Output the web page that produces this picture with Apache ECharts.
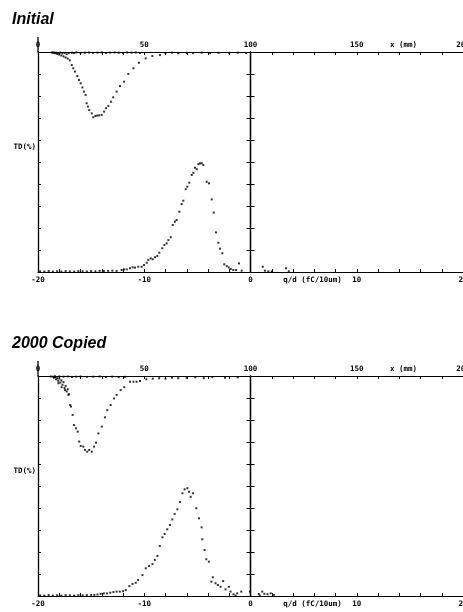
<!DOCTYPE html>
<html><head><meta charset="utf-8">
<script src="https://cdn.jsdelivr.net/npm/echarts@6.0.0/dist/echarts.min.js"></script>
<style>html,body{margin:0;padding:0;background:#fff}#c{width:463px;height:612px}</style>
</head><body><div id="c"></div>
<script>
// ---- Data ----
const panelTitles = ['Initial', '2000 Copied'];
const topAxisLabels = [0, 50, 100, 150, 200];      // x (mm)
const bottomAxisLabels = [-20, -10, 0, 10, 20];    // q/d (fC/10um)
const yAxisName = 'TD(%)';

// position profile (x in mm, depth below top axis in tick units)
const initProfile = [
  [6.5,0.02],[7,0.04],[7.5,0.02],[8,0.06],[8.5,0.03],[9,0.09],[9.5,0.05],[10,0.12],[10.5,0.03],[11,0.16],
  [11.5,0.06],[12,0.2],[12.5,0.04],[13,0.25],[13.5,0.1],[14,0.3],[14.5,0.05],[15,0.38],[16,0.03],[17,0.05],
  [18,0.02],[20,0.04],[22,0.03],[24,0.02],[26,0.04],[28,0.03],[30,0.02],[32,0.04],[34,0.03],[36,0.02],
  [38,0.03],[40,0.04],[42,0.02],[44,0.03],[46,0.02],[48,0.04],
  [15.9,0.59],[16.6,0.74],[17.4,0.89],[18.5,1.09],[19.3,1.27],[20.1,1.42],[20.9,1.61],[21.6,1.8],[22.4,1.95],
  [22.9,2.33],[23.5,2.48],[24.1,2.64],[25.3,2.79],[26.0,2.97],[27.0,2.91],[27.9,2.89],[28.8,2.88],[30.0,2.86],
  [31.1,2.71],[32.0,2.56],[33.1,2.45],[34.4,2.26],[35.4,2.06],[37.0,1.8],[38.6,1.55],[40.5,1.35],[42.5,1.0],
  [44.9,0.74],[47.5,0.49],[50.7,0.29],[53.8,0.18],[57.4,0.14],
  [60,0.05],[63,0.03],[66,0.06],[70,0.04],[73,0.05],[77,0.03],[81,0.05],[85,0.04],[90,0.06],[94,0.03],[98,0.05]
];
// charge distribution (q/d in fC/10um, TD height in tick units)
const initCharge = [
  [-19.8,0.03],[-19.4,0.02],[-19.0,0.04],[-18.6,0.02],[-18.2,0.03],[-17.8,0.02],[-17.4,0.04],[-17.0,0.03],
  [-16.6,0.02],[-16.2,0.04],[-15.8,0.03],[-15.4,0.02],[-15.0,0.04],[-14.6,0.03],[-14.2,0.05],[-13.8,0.04],
  [-13.4,0.05],[-13.0,0.06],[-12.6,0.05],
  [-12.13,0.09],[-11.91,0.12],[-11.65,0.12],[-11.34,0.17],[-11.09,0.21],[-10.87,0.2],[-10.56,0.24],[-10.24,0.24],
  [-10.02,0.32],[-9.77,0.42],[-9.62,0.55],[-9.4,0.62],[-9.21,0.58],[-8.99,0.67],[-8.77,0.73],[-8.58,0.88],
  [-8.3,1.08],[-8.11,1.23],[-7.89,1.3],[-7.73,1.45],[-7.51,1.58],[-7.32,2.14],[-7.11,2.29],[-6.95,2.36],
  [-6.7,2.74],[-6.48,3.09],[-6.32,3.24],[-6.1,3.76],[-5.95,3.88],[-5.76,4.06],[-5.53,4.41],[-5.38,4.51],
  [-5.22,4.74],[-5.06,4.67],[-4.91,4.9],[-4.75,4.94],[-4.59,4.94],[-4.44,4.86],[-4.12,4.1],[-3.91,4.03],
  [-3.65,3.3],[-3.46,2.7],[-3.25,1.8],[-3.03,1.33],[-2.87,1.06],[-2.65,0.85],[-2.47,0.35],[-2.24,0.27],
  [-2.05,0.21],[-1.86,0.14],[-1.62,0.09],[-1.36,0.09],[-1.08,0.39],[-0.83,0.06],
  [1.15,0.24],[1.36,0.06],[1.68,0.03],[2.0,0.03],[3.34,0.17],[3.6,0.03]
];
const copiedProfile = [
  [6,0.02],[7,0.03],[7.5,0.08],[8,0.05],[8.5,0.15],[9,0.1],[9.5,0.22],[10,0.12],[10.5,0.3],[11,0.2],
  [11.5,0.4],[12,0.28],[12.5,0.55],[13,0.45],[13.5,0.7],[14,0.6],[14.5,0.82],
  [9.6,0.33],[11.1,0.51],[12.7,0.64],[14.3,0.86],
  [15.1,1.32],[15.5,1.39],[16.3,1.77],[16.9,2.23],[17.9,2.38],[18.7,2.53],[19.4,2.98],[20.1,3.18],[21.3,3.21],
  [22.1,3.36],[23.2,3.44],[24.1,3.36],[25.3,3.44],[26.4,3.21],[27.3,3.03],[28.4,2.61],[30.0,2.3],[31.5,1.88],
  [32.6,1.55],[34.2,1.32],[35.8,1.02],[37.0,0.86],[38.9,0.64],[40.6,0.51],[43.3,0.26],[44.9,0.26],[46.4,0.26],
  [48.0,0.23],
  [8,0.01],[10,0.02],[12,0.03],[14,0.02],[16,0.04],[18,0.03],[20,0.02],[23,0.04],[26,0.03],[29,0.02],
  [32,0.04],[35,0.03],[38,0.05],[41,0.04],
  [51,0.15],[54,0.12],[57,0.1],[60,0.12],[63,0.08],[66,0.1],[70,0.08],[74,0.06],[78,0.1],[82,0.05],[88,0.08],[94,0.06]
];
const copiedCharge = [
  [-19.8,0.03],[-19.4,0.02],[-19.0,0.04],[-18.6,0.02],[-18.2,0.03],[-17.8,0.02],[-17.4,0.04],[-17.0,0.03],
  [-16.6,0.02],[-16.2,0.04],[-15.8,0.03],[-15.4,0.04],[-15.0,0.05],
  [-14.7,0.05],[-14.4,0.07],[-14.1,0.1],[-13.8,0.12],[-13.5,0.12],[-13.2,0.15],[-12.9,0.18],[-12.6,0.2],
  [-12.3,0.2],[-12.0,0.22],[-11.74,0.27],[-11.4,0.45],[-11.1,0.55],[-10.8,0.6],[-10.58,0.73],[-10.17,0.95],
  [-9.86,1.26],[-9.55,1.36],[-9.23,1.45],[-9.01,1.64],[-8.76,1.82],[-8.54,2.27],[-8.29,2.67],[-8.08,2.82],
  [-7.83,3.03],[-7.58,3.23],[-7.36,3.48],[-7.14,3.73],[-6.88,3.94],[-6.64,4.27],[-6.41,4.67],[-6.2,4.85],
  [-5.94,4.9],[-5.79,4.74],[-5.63,4.51],[-5.42,4.67],[-5.1,3.99],[-4.85,3.53],[-4.6,3.12],[-4.54,2.58],
  [-4.32,2.09],[-4.16,1.67],[-3.92,1.56],[-3.69,0.65],[-3.54,0.85],[-3.29,0.58],[-3.07,0.5],[-2.82,0.42],
  [-2.57,0.68],[-2.35,0.3],[-2.04,0.42],[-1.88,0.2],[-1.6,0.08],[-1.41,0.02],[-1.25,0.12],[-0.87,0.2],
  [-0.06,0.2],[0.78,0.09],[0.87,0.02],[1.1,0.2],[1.3,0.1],[1.6,0.08],[1.9,0.12],[2.2,0.05]
];
const profiles = [initProfile, copiedProfile];
const charges = [initCharge, copiedCharge];

// ---- Layout ----
const gridTops = [52, 376];
const gridLeft = 38, gridWidth = 425, gridHeight = 220;
const mono = 'DejaVu Sans Mono';
const ink = '#000';

const chart = echarts.init(document.getElementById('c'), null, {renderer: 'canvas'});
const grid = [], xAxis = [], yAxis = [], series = [];
gridTops.forEach((top, p) => {
  grid.push({left: gridLeft, top: top, width: gridWidth, height: gridHeight, show: false, containLabel: false, outerBoundsMode: 'none'});
  const lineStyle = {color: ink, width: 1};
  const labelStyle = {show: true, color: ink, fontFamily: mono, fontSize: 7.5, fontWeight: 'bold'};
  // top x axis: mm
  xAxis.push({
    type: 'value', gridIndex: p, position: 'top', min: 0, max: 200, interval: 10,
    axisLine: {show: true, onZero: false, lineStyle},
    axisTick: {show: true, inside: true, length: 3, lineStyle},
    splitLine: {show: false},
    axisLabel: Object.assign({margin: 3, formatter: v => topAxisLabels.includes(v) ? String(v) : ''}, labelStyle)
  });
  // bottom x axis: q/d
  xAxis.push({
    type: 'value', gridIndex: p, position: 'bottom', min: -20, max: 20, interval: 2,
    axisLine: {show: true, onZero: false, lineStyle},
    axisTick: {show: true, inside: true, length: 3, lineStyle},
    splitLine: {show: false},
    axisLabel: Object.assign({margin: 4, formatter: v => bottomAxisLabels.includes(v) ? String(v) : ''}, labelStyle)
  });
  const qdIndex = 2 * p + 1;
  // left y axis (inverted, for profile)
  yAxis.push({
    type: 'value', gridIndex: p, position: 'left', inverse: true, min: 0, max: 10, interval: 1,
    axisLine: {show: true, onZero: false, lineStyle: {color: ink, width: 1.3}},
    axisTick: {show: true, inside: true, length: 3, lineStyle},
    splitLine: {show: false}, axisLabel: {show: false}
  });
  // center y axis at q/d = 0 (for charge distribution), ticks to the right
  yAxis.push({
    type: 'value', gridIndex: p, position: 'left', min: 0, max: 10, interval: 1,
    axisLine: {show: true, onZero: true, onZeroAxisIndex: qdIndex, lineStyle: {color: ink, width: 1.3}},
    axisTick: {show: true, inside: true, length: 4, lineStyle},
    splitLine: {show: false}, axisLabel: {show: false}
  });
  // same, ticks to the left (crossing ticks)
  yAxis.push({
    type: 'value', gridIndex: p, position: 'left', min: 0, max: 10, interval: 1,
    axisLine: {show: true, onZero: true, onZeroAxisIndex: qdIndex, lineStyle: {color: ink, width: 1.3}},
    axisTick: {show: true, inside: false, length: 4, lineStyle},
    splitLine: {show: false}, axisLabel: {show: false}
  });
  series.push({
    type: 'scatter', xAxisIndex: 2 * p, yAxisIndex: 3 * p, data: profiles[p],
    symbol: 'rect', symbolSize: 2, itemStyle: {color: ink}, silent: true, clip: false
  });
  series.push({
    type: 'scatter', xAxisIndex: 2 * p + 1, yAxisIndex: 3 * p + 1, data: charges[p],
    symbol: 'rect', symbolSize: 2, itemStyle: {color: ink}, silent: true, clip: false
  });
});

chart.setOption({animation: false, backgroundColor: '#fff', grid, xAxis, yAxis, series});

// ---- texts and left-axis extension placed from axis coordinates ----
const graphic = [];
gridTops.forEach((top, p) => {
  const origin = chart.convertToPixel({xAxisIndex: 2 * p, yAxisIndex: 3 * p}, [0, 0]);
  const mid = chart.convertToPixel({xAxisIndex: 2 * p, yAxisIndex: 3 * p}, [0, 4.3]);
  const mmLabelPos = chart.convertToPixel({xAxisIndex: 2 * p, yAxisIndex: 3 * p}, [172, 0]);
  const qdLabelPos = chart.convertToPixel({xAxisIndex: 2 * p + 1, yAxisIndex: 3 * p + 1}, [8.6, 0]);
  graphic.push({type: 'line', silent: true,
    shape: {x1: origin[0], y1: origin[1] - 15, x2: origin[0], y2: origin[1]},
    style: {stroke: ink, lineWidth: 1.3}});
  graphic.push({type: 'text', silent: true,
    style: {x: 12, y: origin[1] - 32, text: panelTitles[p], font: 'italic bold 16px "Liberation Sans", Arial, sans-serif',
      fill: '#000', textAlign: 'left', textVerticalAlign: 'middle'}});
  graphic.push({type: 'text', silent: true,
    style: {x: origin[0] - 2, y: mid[1], text: yAxisName, font: 'bold 7.5px "DejaVu Sans Mono"', fill: ink,
      textAlign: 'right', textVerticalAlign: 'middle'}});
  graphic.push({type: 'text', silent: true,
    style: {x: mmLabelPos[0], y: mmLabelPos[1] - 7, text: 'x (mm)', font: 'bold 7.5px "DejaVu Sans Mono"', fill: ink,
      textAlign: 'center', textVerticalAlign: 'middle'}});
  graphic.push({type: 'text', silent: true,
    style: {x: qdLabelPos[0], y: qdLabelPos[1] + 8, text: 'q/d (fC/10um)', font: 'bold 7.5px "DejaVu Sans Mono"', fill: ink,
      textAlign: 'right', textVerticalAlign: 'middle'}});
});
chart.setOption({graphic});
</script>
</body></html>
